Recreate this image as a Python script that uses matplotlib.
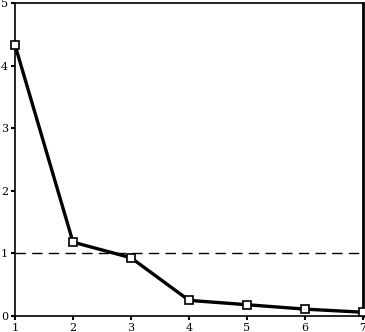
import matplotlib
matplotlib.use("Agg")
import matplotlib.pyplot as plt

# component numbers and eigenvalues (scree plot)
components = [1, 2, 3, 4, 5, 6, 7]
eigenvalues = [4.33, 1.18, 0.93, 0.25, 0.18, 0.11, 0.06]
y_ticks = [0, 1, 2, 3, 4, 5]
cutoff = 1

fig = plt.figure(figsize=(3.65, 3.32), dpi=100)
ax = fig.add_axes([15 / 365, 16 / 332, 348 / 365, 313 / 332])

ax.axhline(cutoff, color='black', linestyle=(0, (7.5, 4.5)), linewidth=1)
ax.plot(components, eigenvalues, color='black', linewidth=2.4,
        marker='s', markersize=6, markerfacecolor='white',
        markeredgecolor='black', markeredgewidth=1.2, clip_on=False, zorder=3)

ax.set_xlim(1, 7)
ax.set_ylim(0, 5)
ax.set_xticks(components)
ax.set_yticks(y_ticks)

ax.tick_params(direction='out', length=3, width=1.5, labelsize=8, pad=2)
for lbl in ax.get_xticklabels() + ax.get_yticklabels():
    lbl.set_family('DejaVu Serif')

for side in ['left', 'bottom', 'top']:
    ax.spines[side].set_linewidth(1.2)
ax.spines['right'].set_linewidth(2)

fig.savefig('out.png', dpi=100)
